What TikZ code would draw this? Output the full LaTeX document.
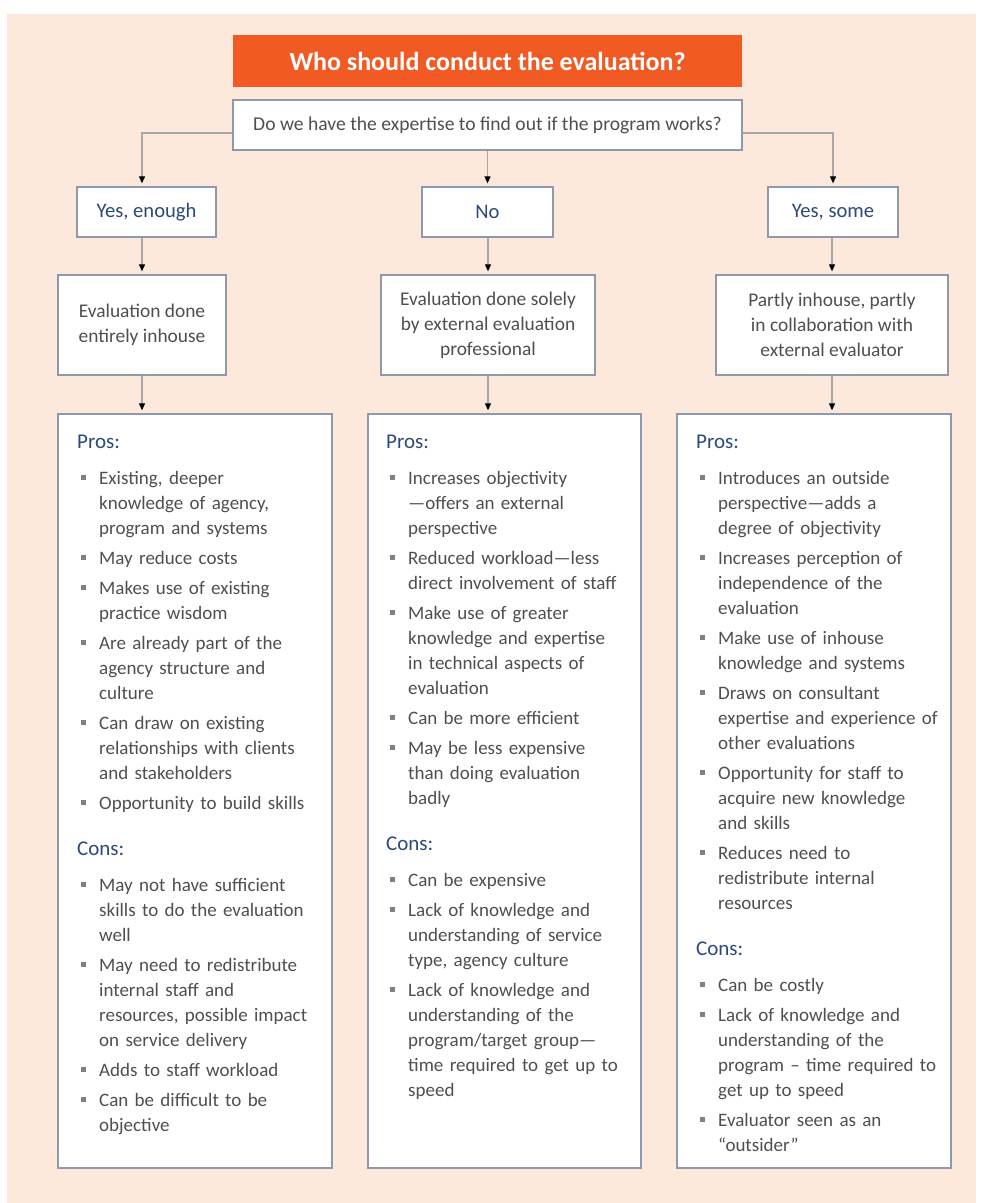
\documentclass[tikz,border=0pt]{standalone}
\usepackage{fontspec}
\setmainfont{Carlito}
\usetikzlibrary{arrows.meta}
\definecolor{bg}{HTML}{FDE9DC}
\definecolor{orng}{HTML}{F15A22}
\definecolor{navy}{HTML}{2B4A7B}
\definecolor{txt}{HTML}{4F4F4F}
\definecolor{bord}{HTML}{8E99AE}
\definecolor{conn}{HTML}{A8A8A8}
\newcommand\bul{\makebox[22pt][l]{\hspace*{4pt}\textcolor{gray}{\rule[4pt]{5pt}{5pt}}}}
\newcommand\ind{\hspace*{22pt}}
\newcommand\hd[1]{{\color{navy}\fontsize{21}{25}\selectfont #1}}
\tikzset{
  box/.style={draw=bord, fill=white, line width=1.3pt, inner sep=0pt},
  titlebox/.style={fill=orng, text=white, inner sep=0pt, font=\bfseries\fontsize{26}{30}\selectfont},
  qtext/.style={text=txt, font=\fontsize{19.6}{25}\selectfont},
  atext/.style={text=navy, font=\fontsize{20.6}{25}\selectfont},
  etext/.style={text=txt, font=\fontsize{19.4}{25}\selectfont, align=center},
  list/.style={text=txt, font=\fontsize{19}{25}\selectfont, anchor=north west, inner sep=0pt, text width=250pt, align=left},
  cn/.style={draw=conn, line width=1.1pt, -{Triangle[length=7pt,width=6pt,color=black]}, shorten >=3pt}
}
\begin{document}
\begin{tikzpicture}[x=1pt,y=-1pt]
\useasboundingbox (0,0) rectangle (983,1203);
\fill[white] (0,0) rectangle (983,1203);
\fill[bg] (7,14) rectangle (976,1203);
% title and question
\node[titlebox, minimum width=509pt, minimum height=52pt] (title) at (487.5,61) {Who should conduct the evaluation?};
\node[box, qtext, minimum width=509pt, minimum height=50pt] (q) at (487.5,125) {Do we have the expertise to find out if the program works?};
% answers
\node[box, atext, minimum width=139pt, minimum height=50pt] (a1) at (146.5,212) {Yes, enough};
\node[box, atext, minimum width=131pt, minimum height=50pt] (a2) at (487.5,212) {No};
\node[box, atext, minimum width=130pt, minimum height=50pt] (a3) at (833,212) {Yes, some};
% who evaluates
\node[box, etext, minimum width=168pt, minimum height=100pt] (e1) at (142,325) {Evaluation done\\entirely inhouse};
\node[box, etext, minimum width=214pt, minimum height=100pt] (e2) at (488,325) {Evaluation done solely\\by external evaluation\\professional};
\node[box, etext, minimum width=232pt, minimum height=100pt] (e3) at (832,325) {Partly inhouse, partly\\in collaboration with\\external evaluator};
% pros and cons boxes
\node[box, minimum width=274pt, minimum height=754pt] (p1) at (195,791) {};
\node[box, minimum width=273pt, minimum height=754pt] (p2) at (504.5,791) {};
\node[box, minimum width=274pt, minimum height=754pt] (p3) at (814,791) {};
% connectors
\draw[cn] ([yshift=-8pt]q.west) -| (e1.north |- a1.north);
\draw[cn] (q.south) -- (a2.north);
\draw[cn] ([yshift=-8pt]q.east) -| (a3.north);
\draw[cn] (e1.north |- a1.south) -- (e1.north);
\draw[cn] (a2.south) -- (e2.north |- a2.south) -- (e2.north);
\draw[cn] (e3.north |- a3.south) -- (e3.north);
\draw[cn] (e1.south) -- (e1.south |- p1.north);
\draw[cn] (e2.south) -- (e2.south |- p2.north);
\draw[cn] (e3.south) -- (e3.south |- p3.north);
% lists
\node[list] (l1) at (77,430.5) {\strut\hd{Pros:}\\[11pt]
\bul Existing, deeper\\
\ind knowledge of agency,\\
\ind program and systems\\[5pt]
\bul May reduce costs\\[5pt]
\bul Makes use of existing\\
\ind practice wisdom\\[5pt]
\bul Are already part of the\\
\ind agency structure and\\
\ind culture\\[5pt]
\bul Can draw on existing\\
\ind relationships with clients\\
\ind and stakeholders\\[5pt]
\bul Opportunity to build skills\\[21pt]
\hd{Cons:}\\[11pt]
\bul May not have sufficient\\
\ind skills to do the evaluation\\
\ind well\\[5pt]
\bul May need to redistribute\\
\ind internal staff and\\
\ind resources, possible impact\\
\ind on service delivery\\[5pt]
\bul Adds to staff workload\\[5pt]
\bul Can be difficult to be\\
\ind objective};
\node[list] (l2) at (386,430.5) {\strut\hd{Pros:}\\[11pt]
\bul Increases objectivity\\
\ind ---offers an external\\
\ind perspective\\[5pt]
\bul Reduced workload---less\\
\ind direct involvement of staff\\[5pt]
\bul Make use of greater\\
\ind knowledge and expertise\\
\ind in technical aspects of\\
\ind evaluation\\[5pt]
\bul Can be more efficient\\[5pt]
\bul May be less expensive\\
\ind than doing evaluation\\
\ind badly\\[21pt]
\hd{Cons:}\\[11pt]
\bul Can be expensive\\[5pt]
\bul Lack of knowledge and\\
\ind understanding of service\\
\ind type, agency culture\\[5pt]
\bul Lack of knowledge and\\
\ind understanding of the\\
\ind program/target group---\\
\ind time required to get up to\\
\ind speed};
\node[list] (l3) at (696,430.5) {\strut\hd{Pros:}\\[11pt]
\bul Introduces an outside\\
\ind perspective---adds a\\
\ind degree of objectivity\\[5pt]
\bul Increases perception of\\
\ind independence of the\\
\ind evaluation\\[5pt]
\bul Make use of inhouse\\
\ind knowledge and systems\\[5pt]
\bul Draws on consultant\\
\ind expertise and experience of\\
\ind other evaluations\\[5pt]
\bul Opportunity for staff to\\
\ind acquire new knowledge\\
\ind and skills\\[5pt]
\bul Reduces need to\\
\ind redistribute internal\\
\ind resources\\[21pt]
\hd{Cons:}\\[11pt]
\bul Can be costly\\[5pt]
\bul Lack of knowledge and\\
\ind understanding of the\\
\ind program -- time required to\\
\ind get up to speed\\[5pt]
\bul Evaluator seen as an\\
\ind “outsider”};
\end{tikzpicture}
\end{document}
